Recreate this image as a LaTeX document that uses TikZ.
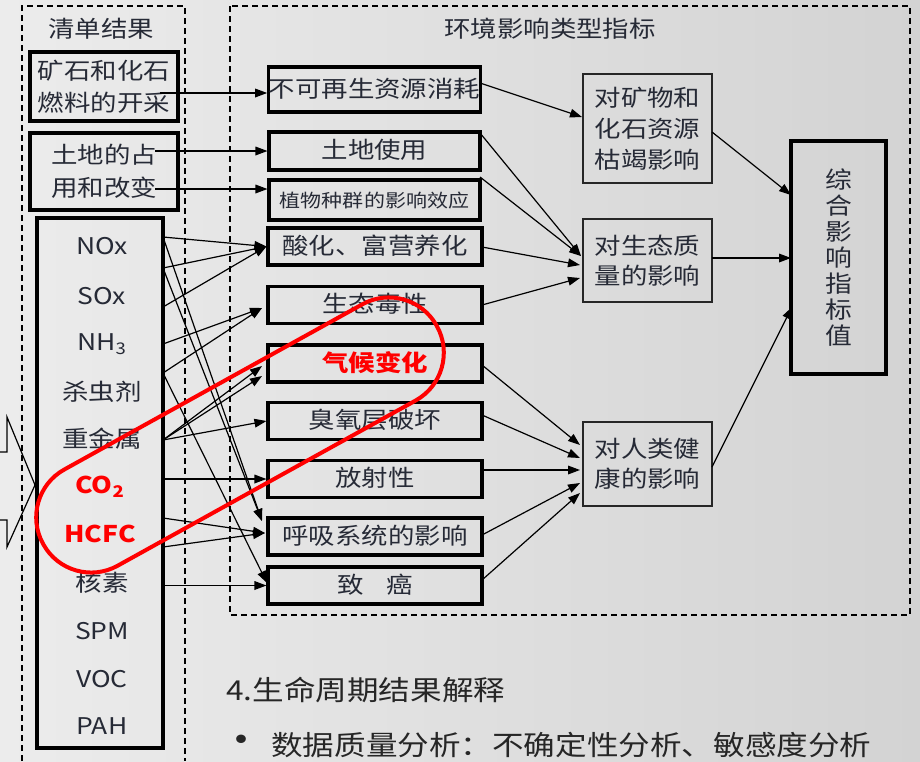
\documentclass[tikz,border=0pt]{standalone}
\usepackage{fontspec}
\setmainfont{Noto Sans CJK SC}[FakeStretch=1.15]
\usetikzlibrary{arrows.meta}
\definecolor{txt}{RGB}{38,42,54}
\definecolor{bgl}{RGB}{236,236,236}
\definecolor{bgr}{RGB}{211,211,211}
\definecolor{hred}{RGB}{255,0,0}
\begin{document}
\begin{tikzpicture}[x=0.75pt,y=-0.75pt,
  font=\fontsize{17.25pt}{20pt}\selectfont, text=txt,
  box/.style={draw=black, line width=2.3pt, inner sep=0pt, align=center},
  mbox/.style={box, minimum width=160.5pt, minimum height=27.75pt, text height=1.15em, text depth=0pt},
  tbox/.style={draw=black!85, line width=1pt, inner sep=0pt, align=center, minimum width=96.75pt},
  arr/.style={-{Triangle[length=9pt,width=6.5pt]}, line width=0.9pt},
  dbox/.style={dashed, dash pattern=on 4.5pt off 3pt, line width=1.3pt},
  item/.style={inner sep=0pt},
  hl/.style={text=hred, font=\fontsize{17.25pt}{20pt}\selectfont\bfseries}
]
\useasboundingbox (0,0) rectangle (920,761);
\shade[left color=bgl, right color=bgr] (0,0) rectangle (920,761);

% dashed frames
\draw[dbox] (22,761) -- (22,6) -- (185,6) -- (185,761);
\draw[dbox, line width=1.1pt] (230,6) rectangle (910,615);

% partial block arrow at left edge
\draw[line width=0.9pt] (0,452) -- (7,452) -- (7,417) -- (35,485) -- (7,547) -- (7,520) -- (0,520);

% titles
\node (T1) at (101,29) {清单结果};
\node (T2) at (550,29) {环境影响类型指标};

% left column boxes
\node[box, minimum width=111pt, minimum height=51.75pt, font=\fontsize{17.25pt}{24pt}\selectfont] (L1) at (104,86.5) {矿石和化石\\燃料的开采};
\node[box, minimum width=111pt, minimum height=57.75pt, font=\fontsize{17.25pt}{24.5pt}\selectfont] (L2) at (104,171.5) {土地的占\\用和改变};
\node[box, line width=2.7pt, minimum width=94.5pt, minimum height=397.5pt] (LB) at (100,483) {};

\node[item] (n1) at (102,246) {NOx};
\node[item] (n2) at (102,296) {SOx};
\node[item] (n3) at (102,344) {NH\textsubscript{3}};
\node[item] (n4) at (102,392) {杀虫剂};
\node[item] (n5) at (102,439) {重金属};
\node[item, hl] (n6) at (100,487) {CO\textsubscript{2}};
\node[item, hl] (n7) at (100,534) {HCFC};
\node[item] (n8) at (102,583) {核素};
\node[item] (n9) at (102,631) {SPM};
\node[item] (n10) at (102,679) {VOC};
\node[item] (n11) at (102,726) {PAH};

% middle boxes
\node[mbox, minimum width=158.25pt, minimum height=33.75pt] (B1) at (374.5,89.5) {不可再生资源消耗};
\node[mbox, minimum width=158.25pt, minimum height=28.5pt] (B2) at (374.5,151) {土地使用};
\node[mbox, minimum width=158.25pt, minimum height=30pt, font=\fontsize{13.7pt}{16pt}\selectfont] (B3) at (374.5,200) {植物种群的影响效应};
\node[mbox] (B4) at (375,246.5) {酸化、富营养化};
\node[mbox] (B5) at (375,305) {生态毒性};
\node[mbox] (B6) at (375,363.5) {\textcolor{hred}{\bfseries 气候变化}};
\node[mbox] (B7) at (375,421) {臭氧层破坏};
\node[mbox] (B8) at (375,479) {放射性};
\node[mbox] (B9) at (375,536.5) {呼吸系统的影响};
\node[mbox] (B10) at (375,585.5) {致\hspace{1em}癌};

% right boxes
\node[tbox, minimum height=81.75pt, font=\fontsize{17.25pt}{23.25pt}\selectfont] (R1) at (647.5,128.5) {对矿物和\\化石资源\\枯竭影响};
\node[tbox, minimum height=62.25pt, font=\fontsize{17.25pt}{22.5pt}\selectfont] (R2) at (647.5,260.5) {对生态质\\量的影响};
\node[tbox, minimum height=63pt, font=\fontsize{17.25pt}{22.5pt}\selectfont] (R3) at (647.5,464) {对人类健\\康的影响};
\node[box, line width=2.6pt, minimum width=71.25pt, minimum height=174.75pt, font=\fontsize{17.5pt}{19.6pt}\selectfont] (R4) at (838.5,257.5) {综\\合\\影\\响\\指\\标\\值};

% coordinates for connector ends
\coordinate (s1) at (160,93);
\coordinate (s2) at (155,151);
\coordinate (s3) at (155,189);
\coordinate (a1) at (163,237);
\coordinate (a2) at (163,268);
\coordinate (a3) at (163,307);
\coordinate (a4) at (163,344);
\coordinate (a5) at (163,373);
\coordinate (a6) at (163,440);
\coordinate (a7) at (163,479);
\coordinate (a8) at (163,518);
\coordinate (a9) at (163,547);
\coordinate (a10) at (163,585.5);
\coordinate (t5) at (262,308);
\coordinate (t6a) at (262,366);
\coordinate (t6b) at (262,376);
\coordinate (t9a) at (262,521);
\coordinate (t9b) at (265,533);
\coordinate (t10a) at (267,583);

\coordinate (c1) at (480,83);
\coordinate (c2) at (480,133);
\coordinate (c3) at (480,177);
\coordinate (c4) at (482,247);
\coordinate (c5) at (482,305);
\coordinate (c6) at (482,365);
\coordinate (c7) at (482,415);
\coordinate (c8) at (482,470);
\coordinate (c9) at (482,535);
\coordinate (c10) at (482,580);
\coordinate (d1) at (582,117);
\coordinate (d2) at (581,256);
\coordinate (d4) at (580,265);
\coordinate (d5) at (580,278);
\coordinate (d6) at (580,445);
\coordinate (d7) at (580,458);
\coordinate (d8) at (580,470);
\coordinate (d9) at (580,483);
\coordinate (d10) at (580,493);
\coordinate (e1) at (712,132);
\coordinate (e2) at (712,258);
\coordinate (e3) at (712,467);
\coordinate (f1) at (791,195);
\coordinate (f2) at (791,258);
\coordinate (f3) at (792,307);

% left to middle
\draw[arr] (s1) -- (s1 -| B1.west);
\draw[arr] (s2) -- (s2 -| B2.west);
\draw[arr] (s3) -- (s3 -| B3.west);
\draw[arr] (a1) -- (B4.west);
\draw[arr] (a2) -- (B4.west);
\draw[arr] (a3) -- (B4.west);
\draw[arr] (a1) -- (t9a);
\draw[arr] (a2) -- (t9a);
\draw[arr] (a4) -- (t5);
\draw[arr] (a5) -- (t5);
\draw[arr] (a5) -- (t10a);
\draw[arr] (a6) -- (t6a);
\draw[arr] (a6) -- (t6b);
\draw[arr] (a6) -- (B7.west);
\draw[arr] (a7) -- (B8.west);
\draw[arr] (a8) -- (t9b);
\draw[arr] (a9) -- (t9b);
\draw[arr] (a10) -- (B10.west);

% middle to right
\draw[arr] (c1) -- (d1);
\draw[arr] (c2) -- (d2);
\draw[arr] (c3) -- (d2);
\draw[arr] (c4) -- (d4);
\draw[arr] (c5) -- (d5);
\draw[arr] (c6) -- (d6);
\draw[arr] (c7) -- (d7);
\draw[arr] (c8) -- (d8);
\draw[arr] (c9) -- (d9);
\draw[arr] (c10) -- (d10);
\draw[arr] (e1) -- (f1);
\draw[arr] (e2) -- (f2);
\draw[arr] (e3) -- (f3);

% red highlight loop
\draw[hred, line width=3pt, rounded corners=41pt, rotate around={29:(240,435)}] (15,380) rectangle (465,490);

% bottom text
\node[anchor=west, inner sep=0pt, font=\fontsize{20.6pt}{24pt}\selectfont, text=black!85] (P1) at (226,690) {4.生命周期结果解释};
\node[inner sep=0pt, font=\fontsize{30pt}{30pt}\selectfont, text=black!85] (P2) at (241,745) {•};
\node[anchor=west, inner sep=0pt, font=\fontsize{20.6pt}{24pt}\selectfont, text=black!85] (P3) at (271,745) {数据质量分析：不确定性分析、敏感度分析};
\end{tikzpicture}
\end{document}
